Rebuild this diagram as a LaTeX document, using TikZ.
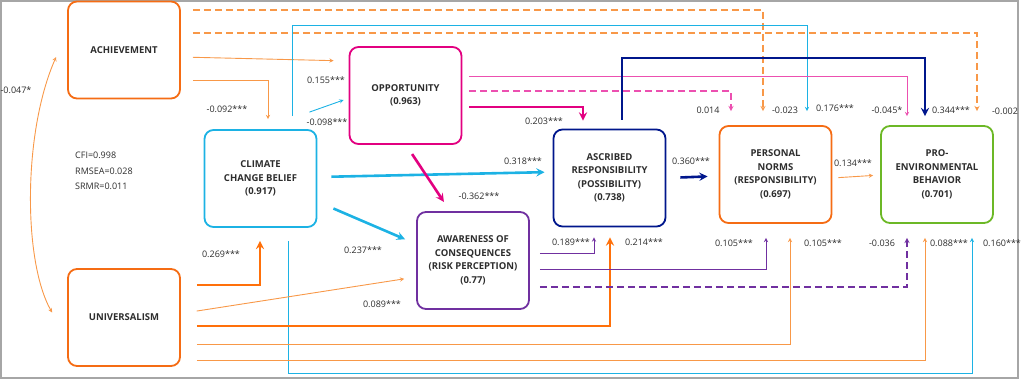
\documentclass[tikz,border=0pt]{standalone}
\usepackage{fontspec}
\setmainfont{Open Sans}
\usetikzlibrary{calc}
\definecolor{txt}{RGB}{45,45,45}
\definecolor{orbox}{RGB}{245,108,20}
\definecolor{orb}{RGB}{255,112,10}
\definecolor{orl}{RGB}{248,152,72}
\definecolor{cyl}{RGB}{28,178,228}
\definecolor{mag}{RGB}{226,0,128}
\definecolor{pnk}{RGB}{236,80,176}
\definecolor{navy}{RGB}{0,22,140}
\definecolor{purp}{RGB}{112,48,160}
\definecolor{grn}{RGB}{108,184,38}
\begin{document}
\begin{tikzpicture}[x=1pt,y=-1pt,>=stealth,
    box/.style={draw,line width=1.8pt,rounded corners=9pt,minimum width=112pt,
        minimum height=97pt,align=center,text=txt,
        font=\fontsize{9.5}{13.5}\selectfont\bfseries},
    lbl/.style={text=txt,inner sep=0pt,font=\fontsize{9}{11}\selectfont},
    link/.style={->,shorten <=12pt,shorten >=12pt},
    thin/.style={line width=0.9pt},
    thick/.style={line width=2.6pt},
    dashline/.style={line width=1.3pt,dash pattern=on 7pt off 4pt}]
\useasboundingbox (0,0) rectangle (1021,381);
\draw[gray!70,line width=1.2pt] (1,1) rectangle (1018,378);

\node[box,draw=orbox] (ach) at (124,50) {ACHIEVEMENT};
\node[box,draw=orbox] (univ) at (124,317.5) {UNIVERSALISM};
\node[box,draw=cyl] (ccb) at (260.5,178.5) {CLIMATE\\CHANGE BELIEF\\(0.917)};
\node[box,draw=mag] (opp) at (405.5,95.5) {OPPORTUNITY\\(0.963)};
\node[box,draw=navy] (ar) at (609.5,178) {ASCRIBED\\RESPONSIBILITY\\(POSSIBILITY)\\(0.738)};
\node[box,draw=purp] (aw) at (473,260.5) {AWARENESS OF\\CONSEQUENCES\\(RISK PERCEPTION)\\(0.77)};
\node[box,draw=orbox] (pn) at (775.5,174.5) {PERSONAL\\NORMS\\(RESPONSIBILITY)\\(0.697)};
\node[box,draw=grn] (peb) at (937,174.5) {PRO-\\ENVIRONMENTAL\\BEHAVIOR\\(0.701)};

\node[lbl,align=left,anchor=west,font=\fontsize{9}{15.5}\selectfont] (fit) at (75,171)
    {CFI=0.998\\RMSEA=0.028\\SRMR=0.011};

% achievement
\draw[link,thin,orl,shorten >=15pt] (ach.east |- 0,57) -- (opp.west |- 0,61);
\draw[link,thin,orl,shorten >=10pt] (ach.east |- 0,80) -| (ccb.north -| 268,0);
\draw[link,orl,dashline,shorten >=14pt] (ach.east |- 0,10) -| (pn.north -| 763,0);
\draw[link,orl,dashline,shorten >=14pt] (ach.east |- 0,33) -| (peb.north -| 977,0);
\draw[<->,thin,orl] ($(ach.west)+(-11,7)$) .. controls (23,132) and (23,261) .. ($(univ.west)+(-15,-5)$);

% climate change belief
\draw[link,thin,cyl,shorten <=13pt,shorten >=14pt] (ccb.north -| 292,0) -- (292,25) -| (pn.north -| 807,0);
\draw[->,thin,cyl] ($(ccb.north east)+(-8,-17)$) -- ($(opp.west)+(-5,4.5)$);
\draw[link,thick,cyl,shorten <=14pt,shorten >=8pt] (ccb.east |- 0,177) -- (ar.west |- 0,172);
\draw[->,thick,cyl,shorten >=12pt] ($(ccb.east)+(16,30)$) -- (aw.west |- 0,244);
\draw[link,thin,cyl,shorten <=13pt,shorten >=14pt] (ccb.south -| 288,0) -- (288,373) -| (peb.south -| 972,0);

% opportunity
\draw[link,thick,mag,shorten <=7pt,shorten >=8pt] (opp.east |- 0,107) -| (ar.north -| 583,0);
\draw[link,thin,pnk,shorten <=7pt,shorten >=9pt] (opp.east |- 0,76) -| (peb.north -| 907,0);
\draw[link,pnk,dashline,shorten <=7pt,shorten >=14pt] (opp.east |- 0,91) -| (pn.north -| 731,0);
\draw[link,thick,mag,shorten <=11pt,shorten >=11pt] (opp.south -| 406,0) -- (aw.north -| 450,0);

% ascribed responsibility
\draw[link,thick,navy,shorten <=9pt,shorten >=9pt] (ar.north -| 622,0) -- (622,58) -| (peb.north -| 925,0);
\draw[link,thick,navy,shorten <=14pt,shorten >=11pt] (ar.east |- 0,178) -- (pn.west |- 0,176);

% personal norms
\draw[link,thin,orl,shorten <=6pt,shorten >=7pt] (pn.east |- 0,178) -- (peb.west |- 0,175);

% universalism
\draw[link,thick,orb,shorten <=16pt,shorten >=13pt] (univ.east |- 0,285) -| (ccb.south -| 260,0);
\draw[link,thin,orl,shorten <=16pt] (univ.east |- 0,313.5) -- (aw.west |- 0,277);
\draw[link,thick,orb,shorten <=16pt,shorten >=10pt] (univ.east |- 0,326) -| (ar.south -| 610,0);
\draw[link,thin,orl,shorten <=16pt,shorten >=14pt] (univ.east |- 0,344) -| (pn.south -| 790,0);
\draw[link,thin,orl,shorten <=16pt,shorten >=14pt] (univ.east |- 0,360) -| (peb.south -| 925,0);

% awareness of consequences
\draw[link,thin,purp,shorten <=10pt,shorten >=10pt] (aw.east |- 0,253) -| (ar.south -| 594,0);
\draw[link,thin,purp,shorten <=10pt,shorten >=14pt] (aw.east |- 0,269) -| (pn.south -| 766,0);
\draw[link,purp,dashline,shorten <=10pt,shorten >=14pt] (aw.east |- 0,287) -| (peb.south -| 907,0);

\foreach \x/\y/\v [count=\i] in {326/80/0.155***, 227/109/-0.092***, 327/122/-0.098***,
    544/121/0.203***, 523/161/0.318***, 479/196/-0.362***, 363/250/0.237***,
    382/304/0.089***, 221/254/0.269***, 571/242/0.189***, 644/242/0.214***,
    734/243/0.105***, 823/243/0.105***, 882/243/-0.036, 949/243/0.088***,
    1002/243/0.160***, 708/110/0.014, 785/110/-0.023, 835/108/0.176***,
    887/110/-0.045*, 951/110/0.344***, 1005/111/-0.002, 691/161/0.360***,
    853/163/0.134***, 16/90/-0.047*}
    \node[lbl] (w\i) at (\x,\y) {\v};
\end{tikzpicture}
\end{document}
